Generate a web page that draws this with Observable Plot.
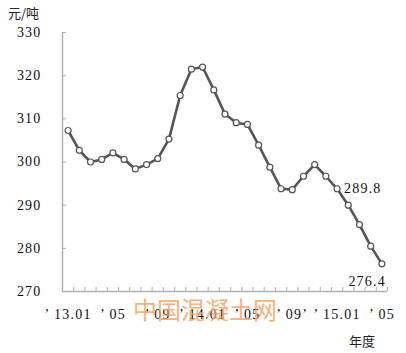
<!DOCTYPE html>
<html><head><meta charset="utf-8">
<script src="https://cdn.jsdelivr.net/npm/d3@7"></script>
<script src="https://cdn.jsdelivr.net/npm/@observablehq/plot@0.6"></script>
<style>
body{margin:0;background:#fff;}
#wrap{position:relative;width:406px;height:353px;overflow:hidden;}
#chart svg, #chart svg text{font-family:"Liberation Serif",serif !important;}
#chart svg text{letter-spacing:1.2px;}
.lab{position:absolute;font-family:"Noto Sans CJK SC",sans-serif;font-size:13px;color:#222;line-height:1;white-space:nowrap;}
.wm{position:absolute;font-family:"Noto Sans CJK SC",sans-serif;font-size:24px;line-height:24px;color:rgb(244,160,90);opacity:0.8;white-space:nowrap;}
</style></head><body>
<div id="wrap">
<div id="chart"></div>
<div class="lab" style="left:8px;top:6px">元/吨</div>
<div class="lab" style="left:349px;top:334px">年度</div>
<div class="wm" style="left:133px;top:297px">中国混凝土网</div>
</div>
<script>
const months = ["2013.01","2013.02","2013.03","2013.04","2013.05","2013.06","2013.07","2013.08","2013.09","2013.10","2013.11","2013.12",
  "2014.01","2014.02","2014.03","2014.04","2014.05","2014.06","2014.07","2014.08","2014.09","2014.10","2014.11","2014.12",
  "2015.01","2015.02","2015.03","2015.04","2015.05"];
const values = [307.3, 302.7, 300.0, 300.6, 302.1, 300.6, 298.4, 299.4, 300.8, 305.3, 315.4, 321.5,
  322.0, 316.7, 311.1, 309.1, 308.7, 303.9, 298.8, 293.8, 293.6, 296.7, 299.4, 296.7,
  293.8, 290.0, 285.5, 280.5, 276.4];
const tickIdx = [0, 4, 8, 12, 16, 20, 24, 28];
const tickLabels = ["’ 13.01", "’ 05", "’ 09", "’ 14.01", "’ 05", "’ 09’", "’ 15.01", "’ 05"];
const yTicks = [270, 280, 290, 300, 310, 320, 330];
const annIdx = [24, 28];
const annText = ["289.8", "276.4"];

const data = values.map((v, i) => ({i, v, month: months[i]}));
const bounds = d3.range(values.length + 1).map(k => k - 0.5);
const ann = annIdx.map((i, k) => ({i, v: values[i], t: annText[k]}));
const axisColor = "#b0b0b0";
const lineColor = "#555555";

const chart = Plot.plot({
  width: 406,
  height: 353,
  marginLeft: 62,
  marginRight: 19,
  marginTop: 32,
  marginBottom: 62,
  style: {fontFamily: "Liberation Serif, serif", fontSize: "14px", color: "#111", background: "transparent"},
  x: {type: "linear", domain: [-0.5, values.length - 0.5]},
  y: {domain: [270, 330]},
  marks: [
    Plot.ruleX([-0.5], {stroke: axisColor, strokeWidth: 1.5}),
    Plot.ruleY([270], {stroke: axisColor, strokeWidth: 1.5}),
    Plot.axisX(bounds, {tickSize: -4, tickFormat: () => "", stroke: axisColor, label: null}),
    Plot.axisX(tickIdx, {tickSize: 0, tickPadding: 18, tickFormat: d => tickLabels[tickIdx.indexOf(d)], label: null, fill: "#111", fontSize: 14}),
    Plot.axisY(yTicks, {tickSize: -4, tickFormat: () => "", stroke: axisColor, label: null}),
    Plot.axisY(yTicks, {tickSize: 0, tickPadding: 21, label: null, fill: "#111", fontSize: 14}),
    Plot.line(data, {x: "i", y: "v", stroke: lineColor, strokeWidth: 2.6}),
    Plot.dot(data, {x: "i", y: "v", r: 3, fill: "white", stroke: lineColor, strokeWidth: 1.2}),
    Plot.text([ann[0]], {x: "i", y: "v", text: "t", textAnchor: "start", dx: 7, dy: 0, fill: "#111", fontSize: 14}),
    Plot.text([ann[1]], {x: "i", y: "v", text: "t", textAnchor: "end", dx: 4, dy: 18, fill: "#111", fontSize: 14})
  ]
});
document.getElementById("chart").appendChild(chart);
</script>
</body></html>
